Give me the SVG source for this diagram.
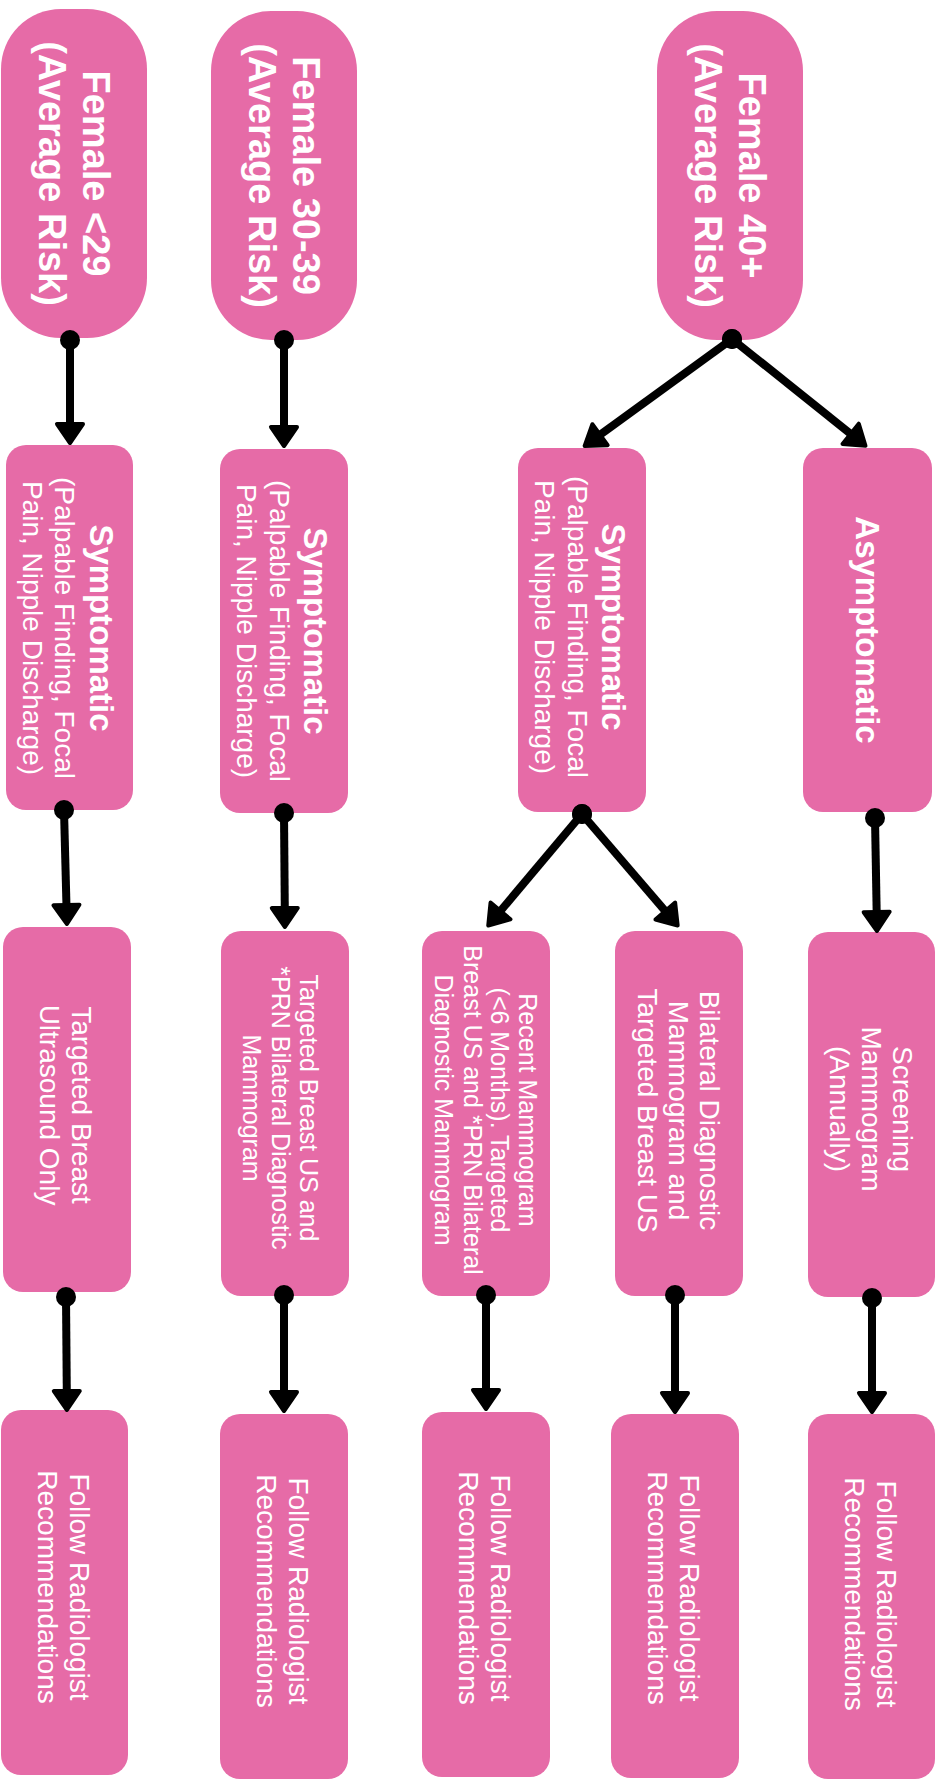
<svg xmlns="http://www.w3.org/2000/svg" width="940" height="1782" viewBox="0 0 940 1782">
<style>
.box{fill:#E66BA7}
.t{fill:#fff;font-family:"Liberation Sans",Arial,sans-serif;text-anchor:middle}
.h{font-size:38px;font-weight:bold}
.b{font-size:33px;font-weight:bold}
.r{font-size:28px}
.s{font-size:25px}
.c{fill:none;stroke:#000;stroke-width:8}
</style>
<defs>
<marker id="arr" markerUnits="userSpaceOnUse" markerWidth="40" markerHeight="40" viewBox="-20 -20 40 40" refX="0" refY="0" orient="auto">
<path d="M -2 -13 L 17 0 L -2 13 Z" fill="#000" stroke="#000" stroke-width="4" stroke-linejoin="round"/>
</marker>
<marker id="dot" markerUnits="userSpaceOnUse" markerWidth="24" markerHeight="24" viewBox="-12 -12 24 24" refX="0" refY="0">
<circle cx="0" cy="0" r="10" fill="#000"/>
</marker>
</defs>

<g id="n1">
<rect class="box" x="1" y="9" width="146" height="329" rx="60" ry="60"/>
<text class="t h" transform="translate(74 173.5) rotate(90)"><tspan x="0" y="-9">Female &lt;29</tspan><tspan x="0" y="35">(Average Risk)</tspan></text>
</g>
<g id="n2">
<rect class="box" x="211" y="11" width="146" height="329" rx="60" ry="60"/>
<text class="t h" transform="translate(284 175.5) rotate(90)"><tspan x="0" y="-9">Female 30-39</tspan><tspan x="0" y="35">(Average Risk)</tspan></text>
</g>
<g id="n3">
<rect class="box" x="657" y="11" width="146" height="329" rx="60" ry="60"/>
<text class="t h" transform="translate(730 175.5) rotate(90)"><tspan x="0" y="-9">Female 40+</tspan><tspan x="0" y="35">(Average Risk)</tspan></text>
</g>

<g id="n4">
<rect class="box" x="6" y="445" width="127" height="365" rx="20" ry="20"/>
<text class="t" transform="translate(69.5 628) rotate(90)"><tspan class="b" x="0" y="-20">Symptomatic</tspan><tspan class="r" x="0" y="14.5">(Palpable Finding, Focal</tspan><tspan class="r" x="0" y="47">Pain, Nipple Discharge)</tspan></text>
</g>
<g id="n5">
<rect class="box" x="220" y="449" width="128" height="364" rx="20" ry="20"/>
<text class="t" transform="translate(284 631) rotate(90)"><tspan class="b" x="0" y="-20">Symptomatic</tspan><tspan class="r" x="0" y="14.5">(Palpable Finding, Focal</tspan><tspan class="r" x="0" y="47">Pain, Nipple Discharge)</tspan></text>
</g>
<g id="n6">
<rect class="box" x="518" y="448" width="128" height="364" rx="20" ry="20"/>
<text class="t" transform="translate(582 627) rotate(90)"><tspan class="b" x="0" y="-20">Symptomatic</tspan><tspan class="r" x="0" y="14.5">(Palpable Finding, Focal</tspan><tspan class="r" x="0" y="47">Pain, Nipple Discharge)</tspan></text>
</g>
<g id="n7">
<rect class="box" x="803" y="448" width="129" height="364" rx="20" ry="20"/>
<text class="t b" transform="translate(867.5 630) rotate(90)"><tspan x="0" y="12">Asymptomatic</tspan></text>
</g>

<g id="n11">
<rect class="box" x="3" y="927" width="128" height="365" rx="20" ry="20"/>
<text class="t r" transform="translate(67 1105) rotate(90)"><tspan x="0" y="-5">Targeted Breast</tspan><tspan x="0" y="27">Ultrasound Only</tspan></text>
</g>
<g id="n12">
<rect class="box" x="221" y="931" width="128" height="365" rx="20" ry="20"/>
<text class="t s" transform="translate(285 1108) rotate(90)"><tspan x="0" y="-15">Targeted Breast US and</tspan><tspan x="0" y="13.5">*PRN Bilateral Diagnostic</tspan><tspan x="0" y="42">Mammogram</tspan></text>
</g>
<g id="n8">
<rect class="box" x="422" y="931" width="128" height="365" rx="20" ry="20"/>
<text class="t s" transform="translate(486 1110) rotate(90)"><tspan x="0" y="-33">Recent Mammogram</tspan><tspan x="0" y="-5">(&lt;6 Months). Targeted</tspan><tspan x="0" y="22.5">Breast US and *PRN Bilateral</tspan><tspan x="0" y="51">Diagnostic Mammogram</tspan></text>
</g>
<g id="n9">
<rect class="box" x="615" y="931" width="128" height="365" rx="20" ry="20"/>
<text class="t r" transform="translate(679 1110.5) rotate(90)"><tspan x="0" y="-20.5">Bilateral Diagnostic</tspan><tspan x="0" y="10.5">Mammogram and</tspan><tspan x="0" y="41.5">Targeted Breast US</tspan></text>
</g>
<g id="n10">
<rect class="box" x="808" y="932" width="127" height="365" rx="20" ry="20"/>
<text class="t r" transform="translate(871.5 1109) rotate(90)"><tspan x="0" y="-21.5">Screening</tspan><tspan x="0" y="10">Mammogram</tspan><tspan x="0" y="42">(Annually)</tspan></text>
</g>

<g id="n13">
<rect class="box" x="1" y="1410" width="127" height="365" rx="20" ry="20"/>
<text class="t r" transform="translate(64.5 1587) rotate(90)"><tspan x="0" y="-5">Follow Radiologist</tspan><tspan x="0" y="27">Recommendations</tspan></text>
</g>
<g id="n14">
<rect class="box" x="220" y="1414" width="128" height="365" rx="20" ry="20"/>
<text class="t r" transform="translate(284 1591) rotate(90)"><tspan x="0" y="-5">Follow Radiologist</tspan><tspan x="0" y="27">Recommendations</tspan></text>
</g>
<g id="n15">
<rect class="box" x="422" y="1412" width="128" height="365" rx="20" ry="20"/>
<text class="t r" transform="translate(486 1588) rotate(90)"><tspan x="0" y="-5">Follow Radiologist</tspan><tspan x="0" y="27">Recommendations</tspan></text>
</g>
<g id="n16">
<rect class="box" x="611" y="1414" width="128" height="364" rx="20" ry="20"/>
<text class="t r" transform="translate(675 1588) rotate(90)"><tspan x="0" y="-5">Follow Radiologist</tspan><tspan x="0" y="27">Recommendations</tspan></text>
</g>
<g id="n17">
<rect class="box" x="808" y="1414" width="127" height="365" rx="20" ry="20"/>
<text class="t r" transform="translate(871.5 1594) rotate(90)"><tspan x="0" y="-5">Follow Radiologist</tspan><tspan x="0" y="27">Recommendations</tspan></text>
</g>

<g id="connectors" class="c">
<path class="c" d="M 70 340 L 70 426" marker-start="url(#dot)" marker-end="url(#arr)"/>
<path class="c" d="M 284 340 L 284 429" marker-start="url(#dot)" marker-end="url(#arr)"/>
<path class="c" d="M 732 339 L 598.4 435.9" marker-start="url(#dot)" marker-end="url(#arr)"/>
<path class="c" d="M 732 339 L 852.2 435.1" marker-start="url(#dot)" marker-end="url(#arr)"/>
<path class="c" d="M 64 810 L 66.5 907" marker-start="url(#dot)" marker-end="url(#arr)"/>
<path class="c" d="M 284 813 L 284.8 910" marker-start="url(#dot)" marker-end="url(#arr)"/>
<path class="c" d="M 582 814 L 499.2 912.5" marker-start="url(#dot)" marker-end="url(#arr)"/>
<path class="c" d="M 582 814 L 666.6 912.6" marker-start="url(#dot)" marker-end="url(#arr)"/>
<path class="c" d="M 875 818 L 876.7 914" marker-start="url(#dot)" marker-end="url(#arr)"/>
<path class="c" d="M 66 1297 L 66.8 1393" marker-start="url(#dot)" marker-end="url(#arr)"/>
<path class="c" d="M 284 1295 L 284 1394" marker-start="url(#dot)" marker-end="url(#arr)"/>
<path class="c" d="M 486 1295 L 486 1392" marker-start="url(#dot)" marker-end="url(#arr)"/>
<path class="c" d="M 675 1295 L 675 1395" marker-start="url(#dot)" marker-end="url(#arr)"/>
<path class="c" d="M 872 1298 L 872 1395" marker-start="url(#dot)" marker-end="url(#arr)"/>
</g>
</svg>
